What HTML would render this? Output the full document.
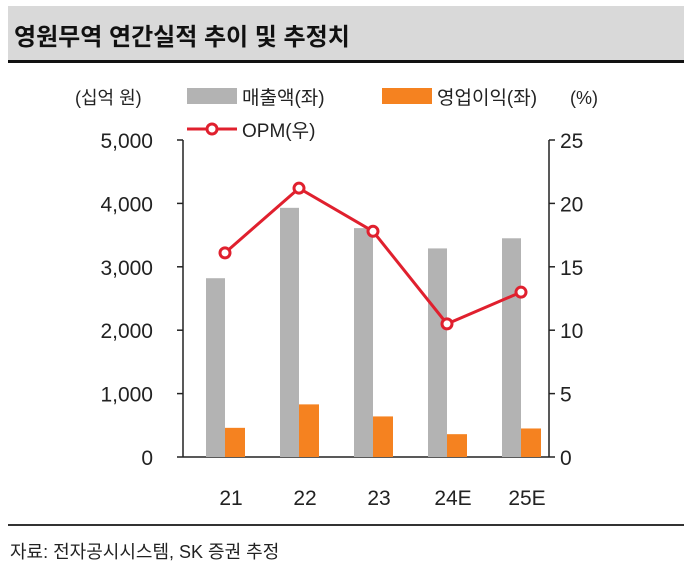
<!DOCTYPE html>
<html><head><meta charset="utf-8"><style>
body{margin:0;background:#fff;font-family:"Liberation Sans","Noto Sans CJK KR",sans-serif;}
svg text{font-family:"Liberation Sans","Noto Sans CJK KR",sans-serif;}
</style></head><body>
<svg width="696" height="579" xmlns="http://www.w3.org/2000/svg">
<rect x="8" y="6" width="676" height="54" fill="#d9d9d9"/>
<text x="14" y="45" font-size="24" font-weight="bold" fill="#111">영원무역 연간실적 추이 및 추정치</text>
<rect x="8" y="60" width="676" height="3" fill="#111"/>
<text x="75" y="104" font-size="18" fill="#222">(십억 원)</text>
<rect x="187" y="88" width="50" height="16" fill="#b3b3b3"/>
<text x="242" y="104" font-size="19" fill="#222">매출액(좌)</text>
<rect x="382" y="88" width="50" height="16" fill="#f58220"/>
<text x="437" y="104" font-size="19" fill="#222">영업이익(좌)</text>
<text x="570" y="104" font-size="18" fill="#222">(%)</text>
<line x1="187" y1="129" x2="237" y2="129" stroke="#e0202e" stroke-width="3"/>
<circle cx="212" cy="129" r="5" fill="#fff" stroke="#e0202e" stroke-width="3"/>
<text x="242" y="137" font-size="19" fill="#222">OPM(우)</text>
<g id="plot"></g>
<rect x="8" y="524" width="676" height="2" fill="#333"/>
<text x="10" y="558" font-size="18" fill="#222">자료: 전자공시시스템, SK 증권 추정</text>
</svg>
<script>
const categories=["21","22","23","24E","25E"];
const sales=[2820,3930,3610,3290,3450];
const opProfit=[460,830,640,360,450];
const opm=[16.1,21.2,17.8,10.5,13.0];
const leftTicks=[0,1000,2000,3000,4000,5000];
const leftTickLabels=["0","1,000","2,000","3,000","4,000","5,000"];
const rightTicks=[0,5,10,15,20,25];
const NS="http://www.w3.org/2000/svg";
const g=document.getElementById('plot');
const x0=188,x1=558,yb=457,yt=140,axL=183,axR=549;
const yL=v=>yb-(v/5000)*(yb-yt);
const yR=v=>yb-(v/25)*(yb-yt);
const bw=(x1-x0)/categories.length;
const xc=i=>x0+bw*(i+0.5);
function mk(t,a){const e=document.createElementNS(NS,t);for(const k in a)e.setAttribute(k,a[k]);g.appendChild(e);return e;}
let ax=mk('line',{x1:axL,y1:yt,x2:axL,y2:yb,stroke:'#222','stroke-width':1.5});

let ax2=mk('line',{x1:axR,y1:yt,x2:axR,y2:yb,stroke:'#222','stroke-width':1.5});

let ax3=mk('line',{x1:axL,y1:yb,x2:axR,y2:yb,stroke:'#222','stroke-width':1.5});

leftTicks.forEach((v,i)=>{
 let t=mk('line',{x1:axL-6,y1:yL(v),x2:axL,y2:yL(v),stroke:'#222','stroke-width':1.5});
 
 let l=mk('text',{x:153,y:yL(v)+8,'font-size':21,'text-anchor':'end',fill:'#222'});
 l.textContent=leftTickLabels[i];
 
});
rightTicks.forEach(v=>{
 let t=mk('line',{x1:axR,y1:yR(v),x2:axR+6,y2:yR(v),stroke:'#222','stroke-width':1.5});
 
 let l=mk('text',{x:560,y:yR(v)+8,'font-size':21,fill:'#222'});
 l.textContent=v;
 
});
categories.forEach((c,i)=>{
 let b=mk('rect',{x:xc(i)-19,y:yL(sales[i]),width:19,height:yb-yL(sales[i]),fill:'#b3b3b3'});
 
 let o=mk('rect',{x:xc(i),y:yL(opProfit[i]),width:20,height:yb-yL(opProfit[i]),fill:'#f58220'});
 
 let l=mk('text',{x:xc(i)+6,y:505,'font-size':21,'text-anchor':'middle',fill:'#222'});
 l.textContent=c;
 
});
let p=mk('polyline',{points:opm.map((v,i)=>xc(i)+','+yR(v)).join(' '),fill:'none',stroke:'#e0202e','stroke-width':3});

opm.forEach((v,i)=>{
 let c=mk('circle',{cx:xc(i),cy:yR(v),r:5,fill:'#fff',stroke:'#e0202e','stroke-width':3});
 
});
</script>
</body></html>
